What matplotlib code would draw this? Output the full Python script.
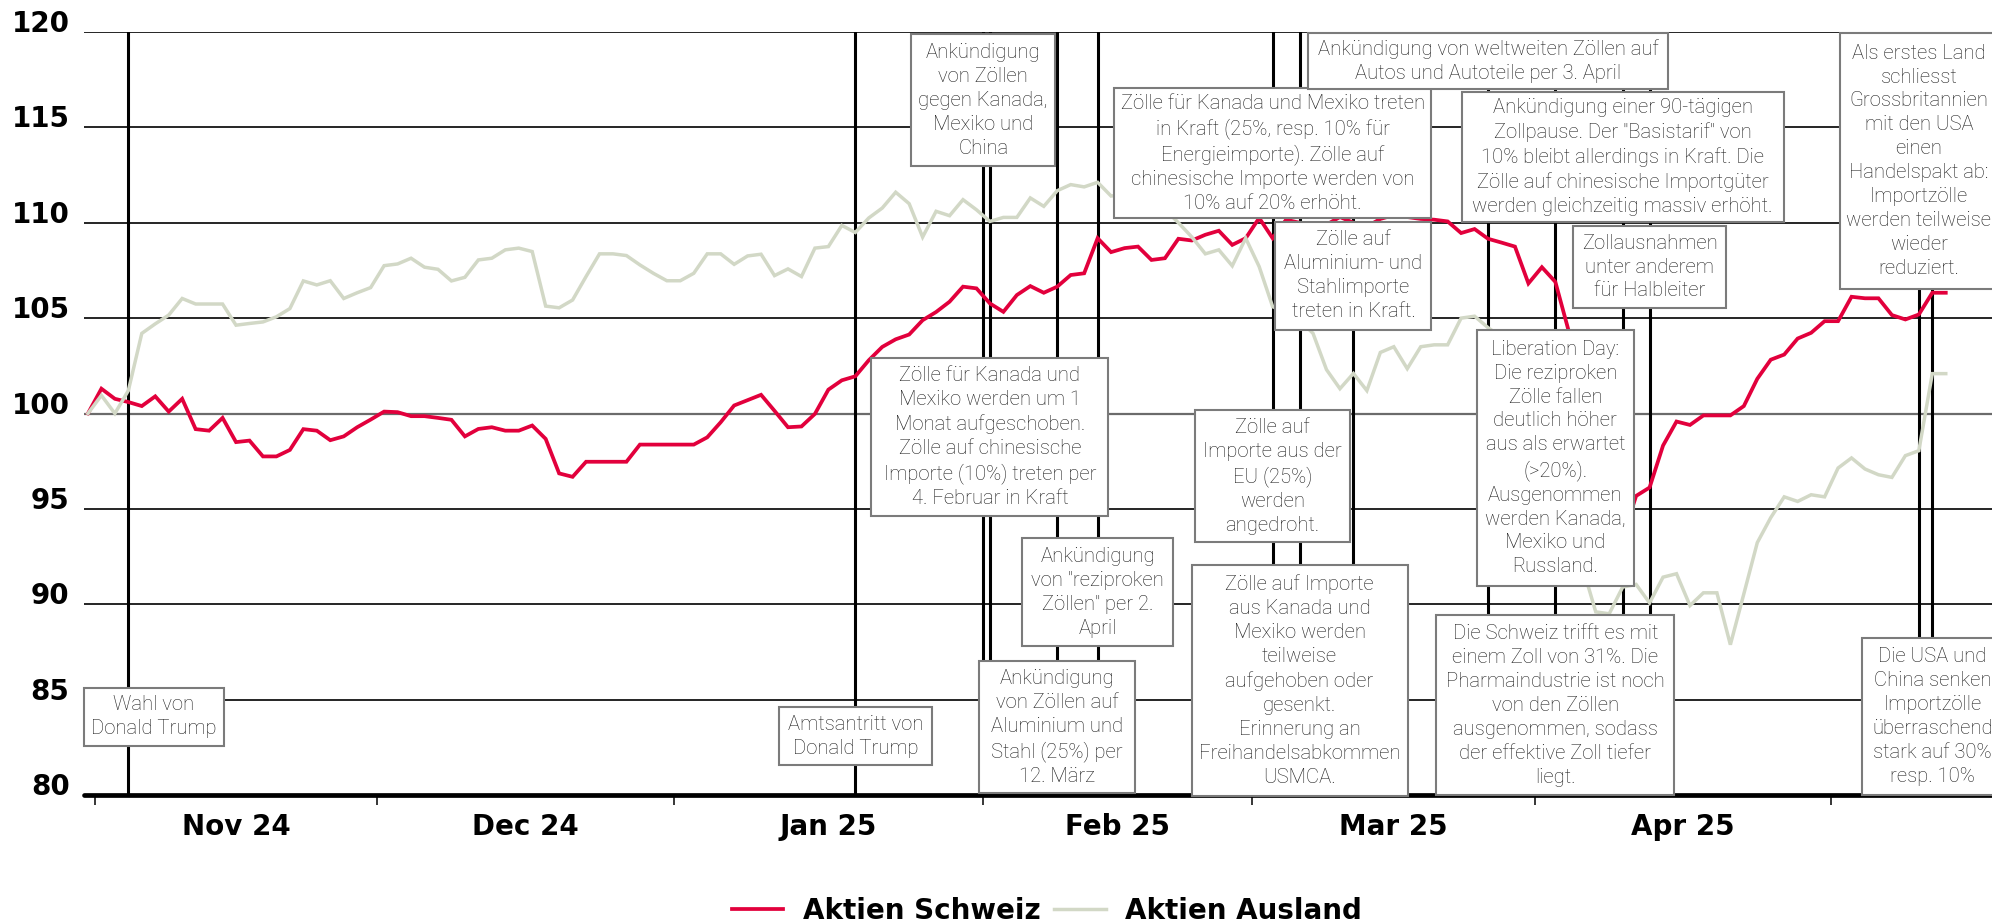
import numpy as np
import pandas as pd
import matplotlib
matplotlib.use("Agg")
import matplotlib.pyplot as plt
from matplotlib.patches import Rectangle

# trading days (Mon-Fri) from the election week to mid May
days = pd.bdate_range("2024-10-31", "2025-05-13")

# indexed performance, 31.10.2024 = 100
aktien_schweiz = [
    100.0, 101.3, 100.77, 100.6, 100.39, 100.9, 100.1, 100.77, 99.18, 99.1,
    99.77, 98.5, 98.58, 97.75, 97.75, 98.09, 99.18, 99.1, 98.6, 98.8,
    99.28, 99.68, 100.1, 100.07, 99.86, 99.86, 99.77, 99.67, 98.8, 99.19,
    99.28, 99.1, 99.1, 99.37, 98.67, 96.86, 96.68, 97.47, 97.47, 97.47,
    97.47, 98.37, 98.37, 98.37, 98.37, 98.37, 98.75, 99.54, 100.42, 100.7,
    100.98, 100.14, 99.28, 99.32, 99.98, 101.25, 101.74, 101.95, 102.79, 103.49,
    103.89, 104.14, 104.89, 105.32, 105.86, 106.65, 106.56, 105.77, 105.33, 106.21,
    106.68, 106.33, 106.65, 107.26, 107.35, 109.19, 108.46, 108.67, 108.75, 108.05,
    108.14, 109.16, 109.07, 109.37, 109.58, 108.84, 109.19, 110.25, 109.19, 110.16,
    110.0, 109.6, 109.9, 110.3, 110.0, 109.8, 110.2, 110.4, 110.3, 110.2,
    110.16, 110.07, 109.46, 109.67, 109.16, 108.96, 108.75, 106.82, 107.67, 106.9,
    104.3, 99.5, 93.8, 95.2, 93.5, 95.68, 96.12, 98.32, 99.58, 99.4,
    99.9, 99.9, 99.9, 100.39, 101.82, 102.82, 103.09, 103.93, 104.23, 104.84,
    104.84, 106.12, 106.04, 106.04, 105.16, 104.93, 105.19, 106.33, 106.33,
]
aktien_ausland = [
    100.0, 100.95, 100.0, 101.2, 104.2, 104.7, 105.16, 106.03, 105.74, 105.74,
    105.74, 104.63, 104.72, 104.8, 105.07, 105.5, 106.95, 106.74, 106.96, 106.03,
    106.33, 106.6, 107.75, 107.84, 108.14, 107.67, 107.56, 106.95, 107.14, 108.05,
    108.14, 108.58, 108.67, 108.49, 105.63, 105.54, 105.95, 107.18, 108.37, 108.37,
    108.28, 107.79, 107.35, 106.96, 106.96, 107.35, 108.37, 108.37, 107.82, 108.26,
    108.35, 107.23, 107.58, 107.18, 108.67, 108.75, 109.86, 109.49, 110.25, 110.77,
    111.6, 111.0, 109.25, 110.6, 110.37, 111.21, 110.68, 110.07, 110.28, 110.28,
    111.3, 110.86, 111.68, 112.0, 111.88, 112.12, 111.4, 111.5, 111.8, 111.2,
    110.7, 110.0, 109.25, 108.37, 108.58, 107.74, 109.19, 107.7, 105.6, 105.3,
    104.9, 104.2, 102.3, 101.3, 102.1, 101.2, 103.2, 103.5, 102.35, 103.5,
    103.6, 103.6, 105.0, 105.1, 104.5, 104.0, 103.4, 102.6, 102.9, 103.2,
    98.8, 92.0, 89.6, 89.5, 90.9, 91.04, 90.07, 91.42, 91.6, 89.93,
    90.6, 90.6, 87.88, 90.54, 93.23, 94.54, 95.63, 95.39, 95.74, 95.63,
    97.14, 97.67, 97.09, 96.79, 96.65, 97.79, 98.05, 102.09, 102.09,
]

event_dates = [
    "2024-11-05", "2025-01-20", "2025-02-01", "2025-02-03", "2025-02-10",
    "2025-02-13", "2025-03-04", "2025-03-12", "2025-03-04", "2025-03-06",
    "2025-03-26", "2025-04-09", "2025-04-11", "2025-04-02", "2025-04-02",
    "2025-05-09", "2025-05-12",
]
event_texts = [
    "Wahl von\nDonald Trump",
    "Amtsantritt von\nDonald Trump",
    "Ankündigung\nvon Zöllen\ngegen Kanada,\nMexiko und\nChina",
    "Zölle für Kanada und\nMexiko werden um 1\nMonat aufgeschoben.\nZölle auf chinesische\n"
    "Importe (10%) treten per\n4. Februar in Kraft",
    "Ankündigung\nvon Zöllen auf\nAluminium und\nStahl (25%) per\n12. März",
    "Ankündigung\nvon \"reziproken\nZöllen\" per 2.\nApril",
    "Zölle für Kanada und Mexiko treten\nin Kraft (25%, resp. 10% für\nEnergieimporte). Zölle auf\n"
    "chinesische Importe werden von\n10% auf 20% erhöht.",
    "Zölle auf\nAluminium- und\nStahlimporte\ntreten in Kraft.",
    "Zölle auf\nImporte aus der\nEU (25%)\nwerden\nangedroht.",
    "Zölle auf Importe\naus Kanada und\nMexiko werden\nteilweise\naufgehoben oder\ngesenkt.\n"
    "Erinnerung an\nFreihandelsabkommen\nUSMCA.",
    "Ankündigung von weltweiten Zöllen auf\nAutos und Autoteile per 3. April",
    "Ankündigung einer 90-tägigen\nZollpause. Der \"Basistarif\" von\n10% bleibt allerdings in Kraft. Die\n"
    "Zölle auf chinesische Importgüter\nwerden gleichzeitig massiv erhöht.",
    "Zollausnahmen\nunter anderem\nfür Halbleiter",
    "Liberation Day:\nDie reziproken\nZölle fallen\ndeutlich höher\naus als erwartet\n(>20%).\n"
    "Ausgenommen\nwerden Kanada,\nMexiko und\nRussland.",
    "Die Schweiz trifft es mit\neinem Zoll von 31%. Die\nPharmaindustrie ist noch\nvon den Zöllen\n"
    "ausgenommen, sodass\nder effektive Zoll tiefer\nliegt.",
    "Als erstes Land\nschliesst\nGrossbritannien\nmit den USA\neinen\nHandelspakt ab:\n"
    "Importzölle\nwerden teilweise\nwieder\nreduziert.",
    "Die USA und\nChina senken\nImportzölle\nüberraschend\nstark auf 30%\nresp. 10%",
]

# label boxes: (top, bottom) in index points, width in trading days
box_layout = [
    (85.63, 82.59, 10.4), (84.6, 81.58, 11.4), (119.87, 112.95, 10.7),
    (102.91, 94.65, 17.6), (87.01, 80.09, 11.56), (93.46, 87.8, 11.2),
    (117.06, 110.23, 23.6), (110.03, 104.4, 11.6), (100.16, 93.25, 11.5),
    (92.05, 79.97, 16.05), (119.96, 116.99, 26.8), (116.88, 110.03, 23.9),
    (109.83, 105.53, 11.4), (104.38, 90.95, 11.7), (89.42, 80.0, 17.7),
    (119.96, 106.53, 11.7), (88.22, 80.02, 10.5),
]

RED = "#e2003c"
SAGE = "#d2d8c6"
BOX_FONT = ["Roboto", "DejaVu Sans"]

x = np.arange(len(days))


def day_pos(d):
    # weekend dates sit between the neighbouring trading days
    d = pd.Timestamp(d)
    i = days.searchsorted(d)
    if i < len(days) and days[i] == d:
        return float(i)
    return i - 0.5


fig = plt.figure(figsize=(19.92, 9.23), dpi=100)
ax = fig.add_axes([83.5 / 1992, 1 - 795 / 923, (2040 - 83.5) / 1992, (795 - 32) / 923])
ax.set_xlim(-0.33, 145.0)
ax.set_ylim(80, 120)

for v in range(85, 121, 5):
    if v == 100:
        ax.axhline(v, color="#6b6b6b", lw=1.6, zorder=1)
    else:
        ax.axhline(v, color="black", lw=1.2, zorder=1)

for s in ["left", "right", "top"]:
    ax.spines[s].set_visible(False)
ax.spines["bottom"].set_linewidth(3.4)
ax.spines["bottom"].set_capstyle("round")
ax.spines["bottom"].set_zorder(4)

positions = [day_pos(d) for d in event_dates]
for p in sorted(set(positions)):
    ax.axvline(p, color="black", lw=2.2, zorder=2)

l1, = ax.plot(x, aktien_schweiz, color=RED, lw=2.7, zorder=3, solid_joinstyle="miter")
l2, = ax.plot(x, aktien_ausland, color=SAGE, lw=2.5, zorder=3, solid_joinstyle="miter")

x0 = ax.get_xlim()[0]
for p, text, (top, bottom, width) in zip(positions, event_texts, box_layout):
    left = max(p - width / 2, x0)
    ax.add_patch(Rectangle((left, bottom), width, top - bottom, facecolor="white",
                           edgecolor="#7b7b7b", lw=1.5, zorder=5, clip_on=False))
    ax.text(left + width / 2, (top + bottom) / 2, text, ha="center", va="center",
            multialignment="center", fontsize=14.6, family=BOX_FONT, fontweight="light",
            linespacing=1.33, color="#1e1e1e", zorder=6)

# month boundaries as ticks, month names centred between them
months = pd.Series(x, index=days.to_period("M")).groupby(level=0)
first = months.min()
last = months.max()
bounds = first.values[1:] - 0.5
centres = ((first + last) / 2).values[1:-1]
labels = [p.strftime("%b %y") for p in first.index[1:-1]]

ax.set_xticks(bounds)
ax.set_xticklabels([])
ax.set_xticks(centres, minor=True)
ax.set_xticklabels(labels, minor=True, fontsize=20, fontweight="bold")
ax.tick_params(axis="x", which="major", length=7, width=1.1, color="black")
ax.tick_params(axis="x", which="minor", length=0, pad=13)

ax.set_yticks(range(80, 121, 5))
ax.set_yticklabels([str(v) for v in range(80, 121, 5)], fontsize=20, fontweight="bold")
ax.tick_params(axis="y", length=0, pad=10)
for lab in ax.get_yticklabels():
    lab.set_verticalalignment("baseline")

fig.legend([l1, l2], ["Aktien Schweiz", "Aktien Ausland"], loc="center",
           bbox_to_anchor=(1047 / 1992, 1 - 911 / 923), ncol=2, frameon=False,
           prop={"weight": "bold", "size": 20}, handlelength=1.85,
           handletextpad=0.7, columnspacing=0.5)

fig.savefig("out.png", dpi=100)
